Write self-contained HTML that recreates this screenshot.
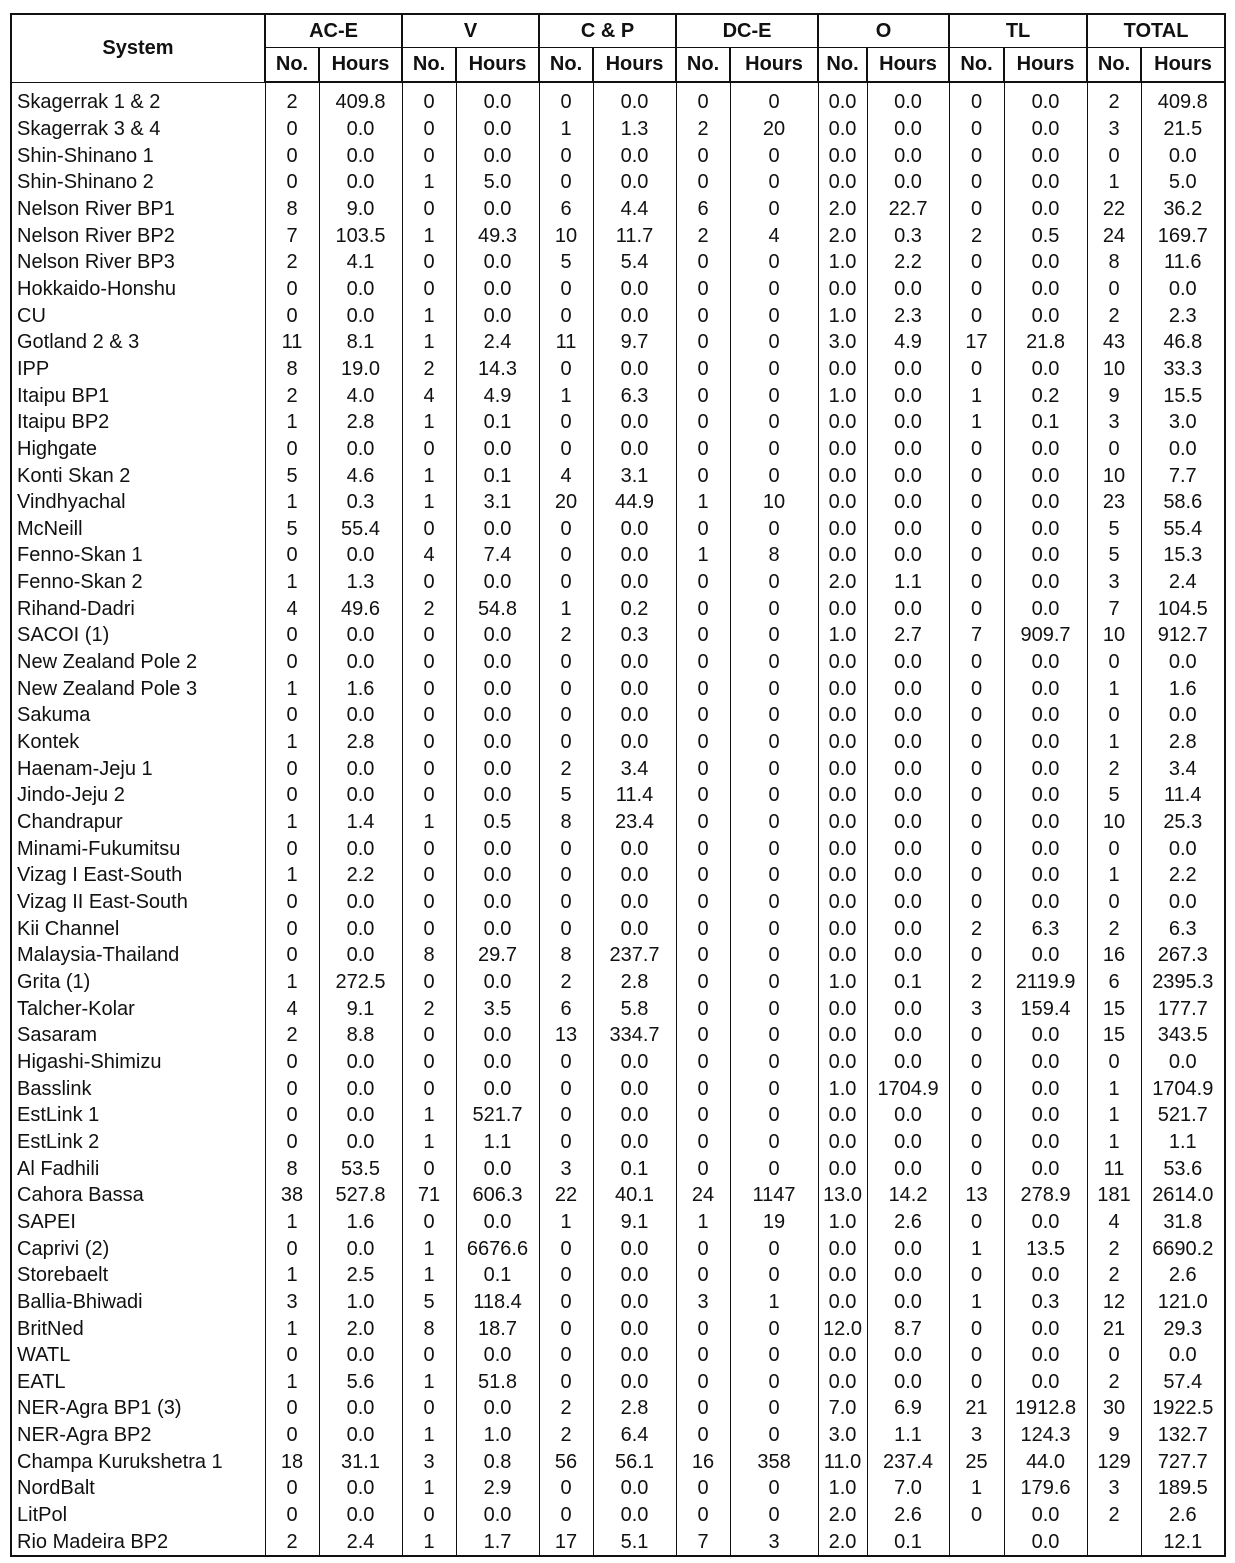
<!DOCTYPE html>
<html><head><meta charset="utf-8"><style>
body{margin:0;background:#fff;width:1235px;height:1563px;overflow:hidden}
table{position:absolute;left:10px;top:13px;border-collapse:collapse;table-layout:fixed;width:1214px;font-family:"Liberation Sans",sans-serif;font-size:20px;color:#111}
td,th{padding:0;text-align:center;white-space:nowrap;overflow:hidden}
th{font-weight:bold;border:2px solid #111;border-top-width:1px;border-bottom-width:1px}
thead tr:first-child th{border-top:2px solid #111}
thead tr:last-child th{border-bottom:2px solid #111}
tr.h1 th{height:32px}
tr.h2 th{height:33px}
tbody td{height:26.67px;border-left:1px solid #111;border-right:1px solid #111;line-height:26px}
tbody td:first-child{text-align:left;padding-left:5px;border-left:2px solid #111}
tbody td:last-child{border-right:2px solid #111}
tbody tr:first-child td{padding-top:6px}
tbody tr:last-child td{border-bottom:2px solid #111}
</style></head><body>
<table>
<colgroup><col style="width:254px"><col style="width:54px"><col style="width:83px"><col style="width:54px"><col style="width:83px"><col style="width:54px"><col style="width:83px"><col style="width:54px"><col style="width:88px"><col style="width:49px"><col style="width:82px"><col style="width:55px"><col style="width:83px"><col style="width:54px"><col style="width:84px"></colgroup>
<thead>
<tr class="h1"><th rowspan="2">System</th><th colspan="2">AC-E</th><th colspan="2">V</th><th colspan="2">C &amp; P</th><th colspan="2">DC-E</th><th colspan="2">O</th><th colspan="2">TL</th><th colspan="2">TOTAL</th></tr>
<tr class="h2"><th>No.</th><th>Hours</th><th>No.</th><th>Hours</th><th>No.</th><th>Hours</th><th>No.</th><th>Hours</th><th>No.</th><th>Hours</th><th>No.</th><th>Hours</th><th>No.</th><th>Hours</th></tr>
</thead>
<tbody>
<tr><td>Skagerrak 1 &amp; 2</td><td>2</td><td>409.8</td><td>0</td><td>0.0</td><td>0</td><td>0.0</td><td>0</td><td>0</td><td>0.0</td><td>0.0</td><td>0</td><td>0.0</td><td>2</td><td>409.8</td></tr>
<tr><td>Skagerrak 3 &amp; 4</td><td>0</td><td>0.0</td><td>0</td><td>0.0</td><td>1</td><td>1.3</td><td>2</td><td>20</td><td>0.0</td><td>0.0</td><td>0</td><td>0.0</td><td>3</td><td>21.5</td></tr>
<tr><td>Shin-Shinano 1</td><td>0</td><td>0.0</td><td>0</td><td>0.0</td><td>0</td><td>0.0</td><td>0</td><td>0</td><td>0.0</td><td>0.0</td><td>0</td><td>0.0</td><td>0</td><td>0.0</td></tr>
<tr><td>Shin-Shinano 2</td><td>0</td><td>0.0</td><td>1</td><td>5.0</td><td>0</td><td>0.0</td><td>0</td><td>0</td><td>0.0</td><td>0.0</td><td>0</td><td>0.0</td><td>1</td><td>5.0</td></tr>
<tr><td>Nelson River BP1</td><td>8</td><td>9.0</td><td>0</td><td>0.0</td><td>6</td><td>4.4</td><td>6</td><td>0</td><td>2.0</td><td>22.7</td><td>0</td><td>0.0</td><td>22</td><td>36.2</td></tr>
<tr><td>Nelson River BP2</td><td>7</td><td>103.5</td><td>1</td><td>49.3</td><td>10</td><td>11.7</td><td>2</td><td>4</td><td>2.0</td><td>0.3</td><td>2</td><td>0.5</td><td>24</td><td>169.7</td></tr>
<tr><td>Nelson River BP3</td><td>2</td><td>4.1</td><td>0</td><td>0.0</td><td>5</td><td>5.4</td><td>0</td><td>0</td><td>1.0</td><td>2.2</td><td>0</td><td>0.0</td><td>8</td><td>11.6</td></tr>
<tr><td>Hokkaido-Honshu</td><td>0</td><td>0.0</td><td>0</td><td>0.0</td><td>0</td><td>0.0</td><td>0</td><td>0</td><td>0.0</td><td>0.0</td><td>0</td><td>0.0</td><td>0</td><td>0.0</td></tr>
<tr><td>CU</td><td>0</td><td>0.0</td><td>1</td><td>0.0</td><td>0</td><td>0.0</td><td>0</td><td>0</td><td>1.0</td><td>2.3</td><td>0</td><td>0.0</td><td>2</td><td>2.3</td></tr>
<tr><td>Gotland 2 &amp; 3</td><td>11</td><td>8.1</td><td>1</td><td>2.4</td><td>11</td><td>9.7</td><td>0</td><td>0</td><td>3.0</td><td>4.9</td><td>17</td><td>21.8</td><td>43</td><td>46.8</td></tr>
<tr><td>IPP</td><td>8</td><td>19.0</td><td>2</td><td>14.3</td><td>0</td><td>0.0</td><td>0</td><td>0</td><td>0.0</td><td>0.0</td><td>0</td><td>0.0</td><td>10</td><td>33.3</td></tr>
<tr><td>Itaipu BP1</td><td>2</td><td>4.0</td><td>4</td><td>4.9</td><td>1</td><td>6.3</td><td>0</td><td>0</td><td>1.0</td><td>0.0</td><td>1</td><td>0.2</td><td>9</td><td>15.5</td></tr>
<tr><td>Itaipu BP2</td><td>1</td><td>2.8</td><td>1</td><td>0.1</td><td>0</td><td>0.0</td><td>0</td><td>0</td><td>0.0</td><td>0.0</td><td>1</td><td>0.1</td><td>3</td><td>3.0</td></tr>
<tr><td>Highgate</td><td>0</td><td>0.0</td><td>0</td><td>0.0</td><td>0</td><td>0.0</td><td>0</td><td>0</td><td>0.0</td><td>0.0</td><td>0</td><td>0.0</td><td>0</td><td>0.0</td></tr>
<tr><td>Konti Skan 2</td><td>5</td><td>4.6</td><td>1</td><td>0.1</td><td>4</td><td>3.1</td><td>0</td><td>0</td><td>0.0</td><td>0.0</td><td>0</td><td>0.0</td><td>10</td><td>7.7</td></tr>
<tr><td>Vindhyachal</td><td>1</td><td>0.3</td><td>1</td><td>3.1</td><td>20</td><td>44.9</td><td>1</td><td>10</td><td>0.0</td><td>0.0</td><td>0</td><td>0.0</td><td>23</td><td>58.6</td></tr>
<tr><td>McNeill</td><td>5</td><td>55.4</td><td>0</td><td>0.0</td><td>0</td><td>0.0</td><td>0</td><td>0</td><td>0.0</td><td>0.0</td><td>0</td><td>0.0</td><td>5</td><td>55.4</td></tr>
<tr><td>Fenno-Skan 1</td><td>0</td><td>0.0</td><td>4</td><td>7.4</td><td>0</td><td>0.0</td><td>1</td><td>8</td><td>0.0</td><td>0.0</td><td>0</td><td>0.0</td><td>5</td><td>15.3</td></tr>
<tr><td>Fenno-Skan 2</td><td>1</td><td>1.3</td><td>0</td><td>0.0</td><td>0</td><td>0.0</td><td>0</td><td>0</td><td>2.0</td><td>1.1</td><td>0</td><td>0.0</td><td>3</td><td>2.4</td></tr>
<tr><td>Rihand-Dadri</td><td>4</td><td>49.6</td><td>2</td><td>54.8</td><td>1</td><td>0.2</td><td>0</td><td>0</td><td>0.0</td><td>0.0</td><td>0</td><td>0.0</td><td>7</td><td>104.5</td></tr>
<tr><td>SACOI (1)</td><td>0</td><td>0.0</td><td>0</td><td>0.0</td><td>2</td><td>0.3</td><td>0</td><td>0</td><td>1.0</td><td>2.7</td><td>7</td><td>909.7</td><td>10</td><td>912.7</td></tr>
<tr><td>New Zealand Pole 2</td><td>0</td><td>0.0</td><td>0</td><td>0.0</td><td>0</td><td>0.0</td><td>0</td><td>0</td><td>0.0</td><td>0.0</td><td>0</td><td>0.0</td><td>0</td><td>0.0</td></tr>
<tr><td>New Zealand Pole 3</td><td>1</td><td>1.6</td><td>0</td><td>0.0</td><td>0</td><td>0.0</td><td>0</td><td>0</td><td>0.0</td><td>0.0</td><td>0</td><td>0.0</td><td>1</td><td>1.6</td></tr>
<tr><td>Sakuma</td><td>0</td><td>0.0</td><td>0</td><td>0.0</td><td>0</td><td>0.0</td><td>0</td><td>0</td><td>0.0</td><td>0.0</td><td>0</td><td>0.0</td><td>0</td><td>0.0</td></tr>
<tr><td>Kontek</td><td>1</td><td>2.8</td><td>0</td><td>0.0</td><td>0</td><td>0.0</td><td>0</td><td>0</td><td>0.0</td><td>0.0</td><td>0</td><td>0.0</td><td>1</td><td>2.8</td></tr>
<tr><td>Haenam-Jeju 1</td><td>0</td><td>0.0</td><td>0</td><td>0.0</td><td>2</td><td>3.4</td><td>0</td><td>0</td><td>0.0</td><td>0.0</td><td>0</td><td>0.0</td><td>2</td><td>3.4</td></tr>
<tr><td>Jindo-Jeju 2</td><td>0</td><td>0.0</td><td>0</td><td>0.0</td><td>5</td><td>11.4</td><td>0</td><td>0</td><td>0.0</td><td>0.0</td><td>0</td><td>0.0</td><td>5</td><td>11.4</td></tr>
<tr><td>Chandrapur</td><td>1</td><td>1.4</td><td>1</td><td>0.5</td><td>8</td><td>23.4</td><td>0</td><td>0</td><td>0.0</td><td>0.0</td><td>0</td><td>0.0</td><td>10</td><td>25.3</td></tr>
<tr><td>Minami-Fukumitsu</td><td>0</td><td>0.0</td><td>0</td><td>0.0</td><td>0</td><td>0.0</td><td>0</td><td>0</td><td>0.0</td><td>0.0</td><td>0</td><td>0.0</td><td>0</td><td>0.0</td></tr>
<tr><td>Vizag I East-South</td><td>1</td><td>2.2</td><td>0</td><td>0.0</td><td>0</td><td>0.0</td><td>0</td><td>0</td><td>0.0</td><td>0.0</td><td>0</td><td>0.0</td><td>1</td><td>2.2</td></tr>
<tr><td>Vizag II East-South</td><td>0</td><td>0.0</td><td>0</td><td>0.0</td><td>0</td><td>0.0</td><td>0</td><td>0</td><td>0.0</td><td>0.0</td><td>0</td><td>0.0</td><td>0</td><td>0.0</td></tr>
<tr><td>Kii Channel</td><td>0</td><td>0.0</td><td>0</td><td>0.0</td><td>0</td><td>0.0</td><td>0</td><td>0</td><td>0.0</td><td>0.0</td><td>2</td><td>6.3</td><td>2</td><td>6.3</td></tr>
<tr><td>Malaysia-Thailand</td><td>0</td><td>0.0</td><td>8</td><td>29.7</td><td>8</td><td>237.7</td><td>0</td><td>0</td><td>0.0</td><td>0.0</td><td>0</td><td>0.0</td><td>16</td><td>267.3</td></tr>
<tr><td>Grita (1)</td><td>1</td><td>272.5</td><td>0</td><td>0.0</td><td>2</td><td>2.8</td><td>0</td><td>0</td><td>1.0</td><td>0.1</td><td>2</td><td>2119.9</td><td>6</td><td>2395.3</td></tr>
<tr><td>Talcher-Kolar</td><td>4</td><td>9.1</td><td>2</td><td>3.5</td><td>6</td><td>5.8</td><td>0</td><td>0</td><td>0.0</td><td>0.0</td><td>3</td><td>159.4</td><td>15</td><td>177.7</td></tr>
<tr><td>Sasaram</td><td>2</td><td>8.8</td><td>0</td><td>0.0</td><td>13</td><td>334.7</td><td>0</td><td>0</td><td>0.0</td><td>0.0</td><td>0</td><td>0.0</td><td>15</td><td>343.5</td></tr>
<tr><td>Higashi-Shimizu</td><td>0</td><td>0.0</td><td>0</td><td>0.0</td><td>0</td><td>0.0</td><td>0</td><td>0</td><td>0.0</td><td>0.0</td><td>0</td><td>0.0</td><td>0</td><td>0.0</td></tr>
<tr><td>Basslink</td><td>0</td><td>0.0</td><td>0</td><td>0.0</td><td>0</td><td>0.0</td><td>0</td><td>0</td><td>1.0</td><td>1704.9</td><td>0</td><td>0.0</td><td>1</td><td>1704.9</td></tr>
<tr><td>EstLink 1</td><td>0</td><td>0.0</td><td>1</td><td>521.7</td><td>0</td><td>0.0</td><td>0</td><td>0</td><td>0.0</td><td>0.0</td><td>0</td><td>0.0</td><td>1</td><td>521.7</td></tr>
<tr><td>EstLink 2</td><td>0</td><td>0.0</td><td>1</td><td>1.1</td><td>0</td><td>0.0</td><td>0</td><td>0</td><td>0.0</td><td>0.0</td><td>0</td><td>0.0</td><td>1</td><td>1.1</td></tr>
<tr><td>Al Fadhili</td><td>8</td><td>53.5</td><td>0</td><td>0.0</td><td>3</td><td>0.1</td><td>0</td><td>0</td><td>0.0</td><td>0.0</td><td>0</td><td>0.0</td><td>11</td><td>53.6</td></tr>
<tr><td>Cahora Bassa</td><td>38</td><td>527.8</td><td>71</td><td>606.3</td><td>22</td><td>40.1</td><td>24</td><td>1147</td><td>13.0</td><td>14.2</td><td>13</td><td>278.9</td><td>181</td><td>2614.0</td></tr>
<tr><td>SAPEI</td><td>1</td><td>1.6</td><td>0</td><td>0.0</td><td>1</td><td>9.1</td><td>1</td><td>19</td><td>1.0</td><td>2.6</td><td>0</td><td>0.0</td><td>4</td><td>31.8</td></tr>
<tr><td>Caprivi (2)</td><td>0</td><td>0.0</td><td>1</td><td>6676.6</td><td>0</td><td>0.0</td><td>0</td><td>0</td><td>0.0</td><td>0.0</td><td>1</td><td>13.5</td><td>2</td><td>6690.2</td></tr>
<tr><td>Storebaelt</td><td>1</td><td>2.5</td><td>1</td><td>0.1</td><td>0</td><td>0.0</td><td>0</td><td>0</td><td>0.0</td><td>0.0</td><td>0</td><td>0.0</td><td>2</td><td>2.6</td></tr>
<tr><td>Ballia-Bhiwadi</td><td>3</td><td>1.0</td><td>5</td><td>118.4</td><td>0</td><td>0.0</td><td>3</td><td>1</td><td>0.0</td><td>0.0</td><td>1</td><td>0.3</td><td>12</td><td>121.0</td></tr>
<tr><td>BritNed</td><td>1</td><td>2.0</td><td>8</td><td>18.7</td><td>0</td><td>0.0</td><td>0</td><td>0</td><td>12.0</td><td>8.7</td><td>0</td><td>0.0</td><td>21</td><td>29.3</td></tr>
<tr><td>WATL</td><td>0</td><td>0.0</td><td>0</td><td>0.0</td><td>0</td><td>0.0</td><td>0</td><td>0</td><td>0.0</td><td>0.0</td><td>0</td><td>0.0</td><td>0</td><td>0.0</td></tr>
<tr><td>EATL</td><td>1</td><td>5.6</td><td>1</td><td>51.8</td><td>0</td><td>0.0</td><td>0</td><td>0</td><td>0.0</td><td>0.0</td><td>0</td><td>0.0</td><td>2</td><td>57.4</td></tr>
<tr><td>NER-Agra BP1 (3)</td><td>0</td><td>0.0</td><td>0</td><td>0.0</td><td>2</td><td>2.8</td><td>0</td><td>0</td><td>7.0</td><td>6.9</td><td>21</td><td>1912.8</td><td>30</td><td>1922.5</td></tr>
<tr><td>NER-Agra BP2</td><td>0</td><td>0.0</td><td>1</td><td>1.0</td><td>2</td><td>6.4</td><td>0</td><td>0</td><td>3.0</td><td>1.1</td><td>3</td><td>124.3</td><td>9</td><td>132.7</td></tr>
<tr><td>Champa Kurukshetra 1</td><td>18</td><td>31.1</td><td>3</td><td>0.8</td><td>56</td><td>56.1</td><td>16</td><td>358</td><td>11.0</td><td>237.4</td><td>25</td><td>44.0</td><td>129</td><td>727.7</td></tr>
<tr><td>NordBalt</td><td>0</td><td>0.0</td><td>1</td><td>2.9</td><td>0</td><td>0.0</td><td>0</td><td>0</td><td>1.0</td><td>7.0</td><td>1</td><td>179.6</td><td>3</td><td>189.5</td></tr>
<tr><td>LitPol</td><td>0</td><td>0.0</td><td>0</td><td>0.0</td><td>0</td><td>0.0</td><td>0</td><td>0</td><td>2.0</td><td>2.6</td><td>0</td><td>0.0</td><td>2</td><td>2.6</td></tr>
<tr><td>Rio Madeira BP2</td><td>2</td><td>2.4</td><td>1</td><td>1.7</td><td>17</td><td>5.1</td><td>7</td><td>3</td><td>2.0</td><td>0.1</td><td></td><td>0.0</td><td></td><td>12.1</td></tr>
</tbody>
</table>
</body></html>
